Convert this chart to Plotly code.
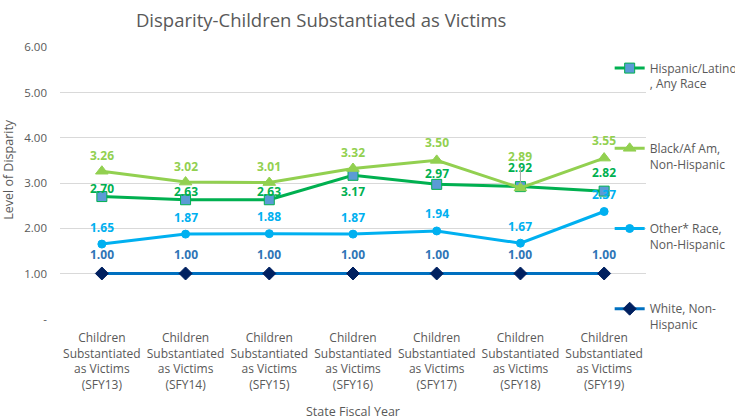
import plotly.graph_objects as go

categories = ["SFY13", "SFY14", "SFY15", "SFY16", "SFY17", "SFY18", "SFY19"]
tick_labels = ["Children<br>Substantiated<br>as Victims<br>(%s)" % c for c in categories]

hispanic = [2.70, 2.63, 2.63, 3.17, 2.97, 2.92, 2.82]
black = [3.26, 3.02, 3.01, 3.32, 3.50, 2.89, 3.55]
other = [1.65, 1.87, 1.88, 1.87, 1.94, 1.67, 2.37]
white = [1.00, 1.00, 1.00, 1.00, 1.00, 1.00, 1.00]

y_ticks = [0, 1, 2, 3, 4, 5, 6]
y_tick_text = ["-", "1.00", "2.00", "3.00", "4.00", "5.00", "6.00"]

FONT = "Open Sans"
GRAY = "#595959"

series = [
    # name, values, line color, marker symbol, marker fill, marker line, size, label color, rank, label offsets
    ("White, Non-<br>Hispanic", white, "#0070C0", "diamond", "#002060", "#002060", 10, "#2E75B6", 4,
     [19] * 7),
    ("Other* Race,<br>Non-Hispanic", other, "#00B0F0", "circle", "#00B0F0", "#00B0F0", 8, "#00B0F0", 3,
     [17, 17, 17, 17, 17, 17, 17]),
    ("Hispanic/Latino<br>, Any Race", hispanic, "#00B050", "square", "#5B9BD5", "#00B050", 10, "#00B050", 1,
     [8, 8, 8, -16, 11, 19, 19]),
    ("Black/Af Am,<br>Non-Hispanic", black, "#92D050", "triangle-up", "#92D050", "#92D050", 11, "#92D050", 2,
     [16, 16, 16, 16, 18, 31, 18]),
]

fig = go.Figure()
annotations = []
for name, vals, lc, sym, mfill, mline, msize, labc, rank, offs in series:
    fig.add_trace(go.Scatter(
        x=categories, y=vals, name=name, mode="lines+markers",
        line=dict(color=lc, width=3),
        marker=dict(symbol=sym, size=msize, color=mfill, line=dict(color=mline, width=1)),
        legendrank=rank, legendgroup=name,
    ))
    for i, (c, v) in enumerate(zip(categories, vals)):
        leader = (name.startswith("Black") and c == "SFY18")
        a = dict(x=c, y=v, xref="x", yref="y", text="%.2f" % v,
                 font=dict(family=FONT, size=12, color=labc, weight="bold"))
        if leader:
            a.update(showarrow=True, arrowhead=0, arrowwidth=1, arrowcolor="#A6A6A6",
                     ax=0, ay=-offs[i], standoff=4)
        else:
            a.update(showarrow=False, yshift=offs[i])
        annotations.append(a)

annotations.append(dict(text="Level of Disparity", textangle=-90, xref="paper", yref="paper",
                        x=-0.088, y=0.55, xanchor="center", yanchor="middle", showarrow=False,
                        font=dict(family=FONT, size=12.5, color=GRAY)))

fig.update_layout(
    width=735, height=420,
    margin=dict(l=60, r=89, t=47, b=101, autoexpand=False),
    paper_bgcolor="white", plot_bgcolor="white",
    font=dict(family=FONT, size=11, color=GRAY),
    title=dict(text="Disparity-Children Substantiated as Victims", x=0.437, xanchor="center",
               y=0.95, yanchor="middle", font=dict(family=FONT, size=18.5, color=GRAY)),
    xaxis=dict(tickmode="array", tickvals=categories, ticktext=tick_labels, tickangle=0,
               range=[-0.5, len(categories) - 0.5],
               showgrid=False, zeroline=False, showline=False, ticks="", automargin=False,
               tickfont=dict(size=12, color=GRAY), ticklabelstandoff=10,
               title=dict(text="State Fiscal Year", font=dict(size=12.5, color=GRAY), standoff=18)),
    yaxis=dict(range=[-0.006, 6.006], tickmode="array", tickvals=y_ticks, ticktext=y_tick_text,
               showgrid=True, gridcolor="#D9D9D9", gridwidth=1, zeroline=False, showline=False,
               automargin=False,
               tickfont=dict(size=11.5, color=GRAY), ticks="", ticklabelstandoff=12),
    legend=dict(x=0.938, xanchor="left", y=0.975, yanchor="top", bgcolor="rgba(0,0,0,0)",
                font=dict(size=12, color=GRAY), tracegroupgap=46, valign="top",
                itemwidth=30, maxheight=400),
    annotations=annotations,
    showlegend=True,
)

fig.write_html("out.html")
